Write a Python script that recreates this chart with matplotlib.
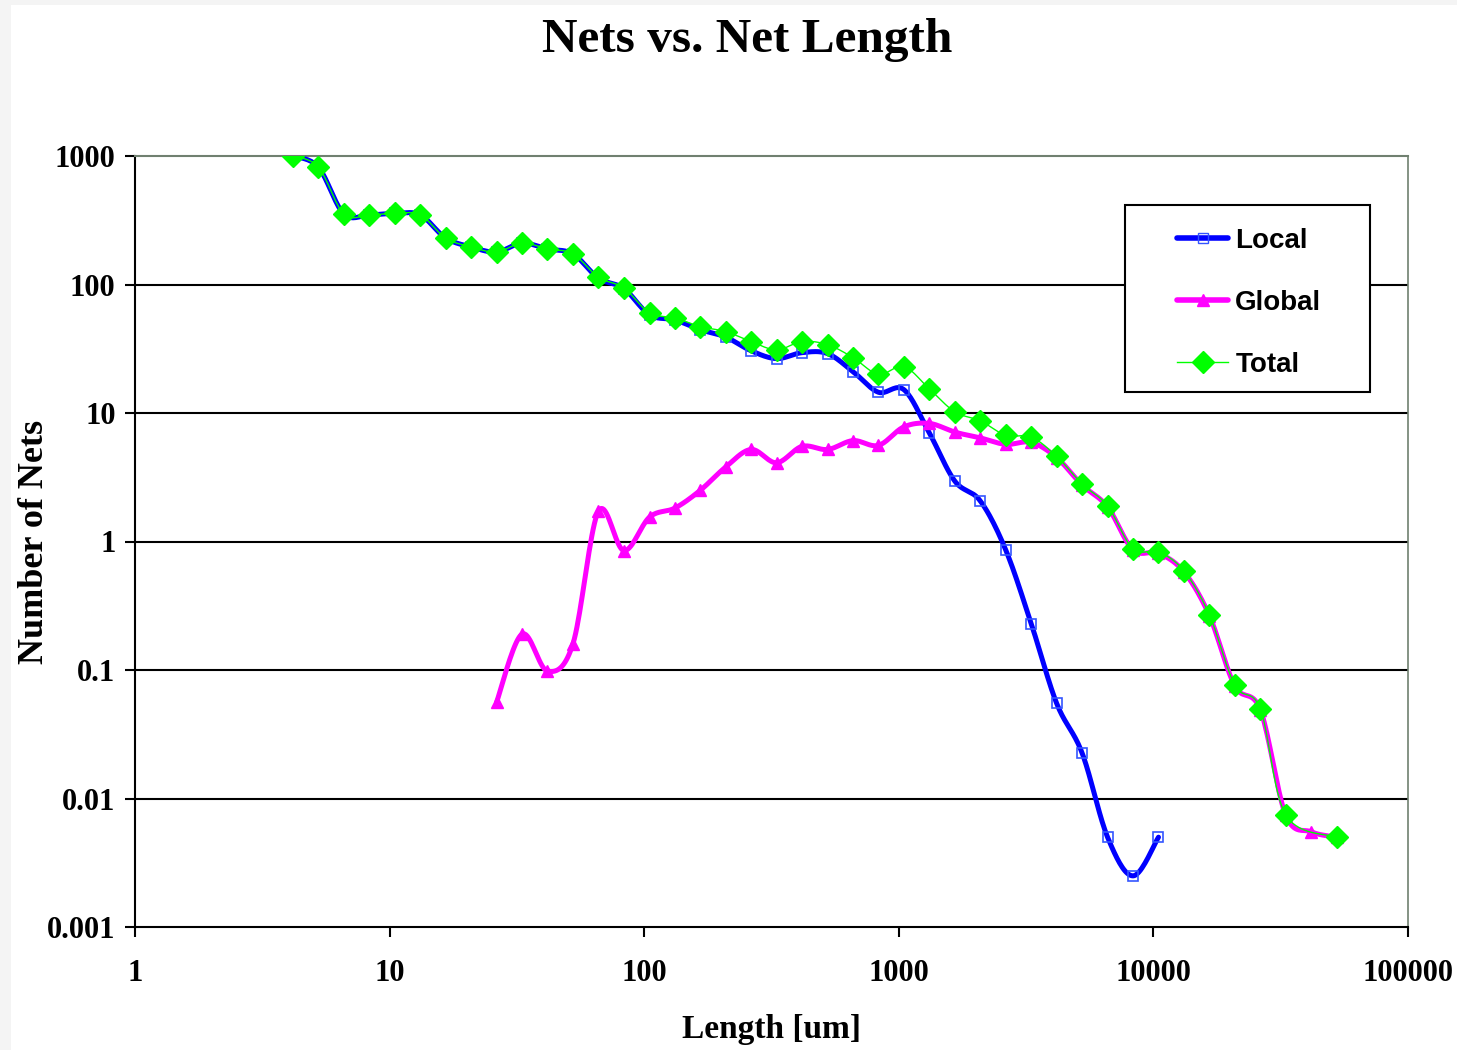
import numpy as np
import matplotlib
matplotlib.use("Agg")
import matplotlib.pyplot as plt
from matplotlib.lines import Line2D
from matplotlib.patches import Rectangle
from matplotlib.ticker import FixedLocator, FixedFormatter, NullLocator

# bin centres [um], one per 0.1 decade
length = [4.17, 5.25, 6.61, 8.32, 10.5, 13.2, 16.6, 20.9, 26.3, 33.1,
          41.7, 52.5, 66.1, 83.2, 105, 132, 166, 209, 263, 331,
          417, 525, 661, 832, 1047, 1318, 1660, 2089, 2630, 3311,
          4169, 5248, 6607, 8318, 10471, 13183, 16596, 20893, 26303, 33113,
          41687, 52481]

local_x = length[:35]
local_y = [1000, 820, 354, 348, 358, 348, 230, 196, 179, 210,
           189, 173, 112, 93, 58, 53, 44.5, 39, 30.5, 26.5,
           29.5, 29, 21, 14.5, 15.2, 7.0, 2.95, 2.07, 0.86, 0.23,
           0.055, 0.0226, 0.005, 0.0025, 0.005]

global_x = length[8:]
global_y = [0.056, 0.19, 0.098, 0.16, 1.72, 0.85, 1.55, 1.82, 2.5, 3.8,
            5.2, 4.1, 5.5, 5.2, 6.1, 5.6, 7.8, 8.3, 7.1, 6.4,
            5.7, 5.9, 4.5, 2.75, 1.86, 0.86, 0.81, 0.58, 0.265, 0.075,
            0.049, 0.0074, 0.0055, 0.005]

total_x = length[:40] + length[41:]
total_y = [1000, 820, 354, 348, 358, 348, 230, 196, 179, 210,
           189, 173, 114, 94, 60, 55, 47, 43, 36, 31,
           36, 34, 27, 20, 23, 15.4, 10.2, 8.7, 6.7, 6.5,
           4.6, 2.8, 1.89, 0.875, 0.83, 0.59, 0.268, 0.076, 0.0497, 0.00745,
           0.005]


def smooth(xs, ys, n=20):
    # excel-like smoothed line, bezier segments in log-log space
    px = np.log10(xs)
    py = np.log10(ys)
    m = len(px)
    outx, outy = [], []
    t = np.linspace(0, 1, n)
    for i in range(m - 1):
        p0 = np.array([px[max(i - 1, 0)], py[max(i - 1, 0)]])
        p1 = np.array([px[i], py[i]])
        p2 = np.array([px[i + 1], py[i + 1]])
        p3 = np.array([px[min(i + 2, m - 1)], py[min(i + 2, m - 1)]])
        c1 = p1 + (p2 - p0) / 6
        c2 = p2 - (p3 - p1) / 6
        b = ((1 - t) ** 3)[:, None] * p1 + (3 * (1 - t) ** 2 * t)[:, None] * c1 \
            + (3 * (1 - t) * t ** 2)[:, None] * c2 + (t ** 3)[:, None] * p2
        outx.extend(b[:, 0])
        outy.extend(b[:, 1])
    return 10 ** np.array(outx), 10 ** np.array(outy)


fig = plt.figure(figsize=(14.57, 10.5), dpi=100)
fig.patch.set_facecolor("#f4f4f4")
fig.patches.append(Rectangle((11 / 1457, 0), 1, 1 - 5 / 1050, transform=fig.transFigure,
                             facecolor="white", edgecolor="none", zorder=-10))

ax = fig.add_axes([135 / 1457, 1 - 927 / 1050, (1408 - 135) / 1457, (927 - 156) / 1050])
ax.set_xscale("log")
ax.set_yscale("log")
ax.set_xlim(1, 100000)
ax.set_ylim(0.001, 1000)

blue = "#0000ff"
magenta = "#ff00ff"
green = "#00ff00"

sx, sy = smooth(local_x, local_y)
ax.plot(sx, sy, color=blue, lw=3.6, solid_capstyle="round", zorder=3)
ax.plot(local_x, local_y, ls="none", marker="s", ms=6.5, mfc="none", mec="#3355ff", mew=1.2, zorder=4)

sx, sy = smooth(global_x, global_y)
ax.plot(sx, sy, color=magenta, lw=3.6, solid_capstyle="round", zorder=3)
ax.plot(global_x, global_y, ls="none", marker="^", ms=8, color=magenta, zorder=4)

sx, sy = smooth(total_x, total_y)
ax.plot(sx, sy, color=green, lw=1.0, zorder=5)
ax.plot(total_x, total_y, ls="none", marker="D", ms=11, color=green, zorder=6)

# grid and frame
for v in [0.01, 0.1, 1, 10, 100]:
    ax.axhline(v, color="black", lw=1.5, zorder=1)
ax.spines["top"].set_color("#708070")
ax.spines["right"].set_color("#708070")
ax.spines["top"].set_linewidth(1.5)
ax.spines["right"].set_linewidth(1.2)
ax.spines["left"].set_linewidth(1.5)
ax.spines["bottom"].set_linewidth(1.5)

xt = [1, 10, 100, 1000, 10000, 100000]
yt = [0.001, 0.01, 0.1, 1, 10, 100, 1000]
ax.xaxis.set_major_locator(FixedLocator(xt))
ax.xaxis.set_major_formatter(FixedFormatter(["1", "10", "100", "1000", "10000", "100000"]))
ax.xaxis.set_minor_locator(NullLocator())
ax.yaxis.set_major_locator(FixedLocator(yt))
ax.yaxis.set_major_formatter(FixedFormatter(["0.001", "0.01", "0.1", "1", "10", "100", "1000"]))
ax.yaxis.set_minor_locator(NullLocator())

serif = "Liberation Serif"
ax.tick_params(axis="both", direction="out", length=7, width=1.5, labelsize=22)
ax.tick_params(axis="x", pad=16)
ax.tick_params(axis="y", pad=7)
for lab in ax.get_xticklabels() + ax.get_yticklabels():
    lab.set_fontfamily(serif)
    lab.set_fontweight("bold")

ax.set_xlabel("Length [um]", fontfamily=serif, fontweight="bold", fontsize=24)
ax.xaxis.set_label_coords(0.5, -0.113)
ax.set_ylabel("Number of Nets", fontfamily=serif, fontweight="bold", fontsize=26)
ax.yaxis.set_label_coords(-0.066, 0.5)
fig.text(747 / 1457, 1 - 40 / 1050, "Nets vs. Net Length", ha="center", va="center",
         fontfamily=serif, fontweight="bold", fontsize=35.5)

# legend: frame drawn separately to match the padding
ax.add_patch(Rectangle(((1125 - 135) / 1273, (927 - 392) / 771), 245 / 1273, 187 / 771,
                       transform=ax.transAxes, facecolor="white", edgecolor="black",
                       lw=1.5, zorder=9))
handles = [
    Line2D([], [], color=blue, lw=4, marker="s", ms=6.5, mfc="none", mec="#3355ff", solid_capstyle="round"),
    Line2D([], [], color=magenta, lw=4, marker="^", ms=8, solid_capstyle="round"),
    Line2D([], [], color=green, lw=1, marker="D", ms=11),
]
leg = ax.legend(handles, ["Local", "Global", "Total"], loc="center left",
                bbox_to_anchor=((1177 - 135) / 1273, (927 - 303) / 771),
                prop={"family": "Liberation Sans", "weight": "bold", "size": 20},
                frameon=False, handlelength=1.85, labelspacing=1.3, borderpad=0,
                handletextpad=0.25, borderaxespad=0)
leg.set_zorder(10)

fig.savefig("out.png", dpi=100, facecolor=fig.get_facecolor())
